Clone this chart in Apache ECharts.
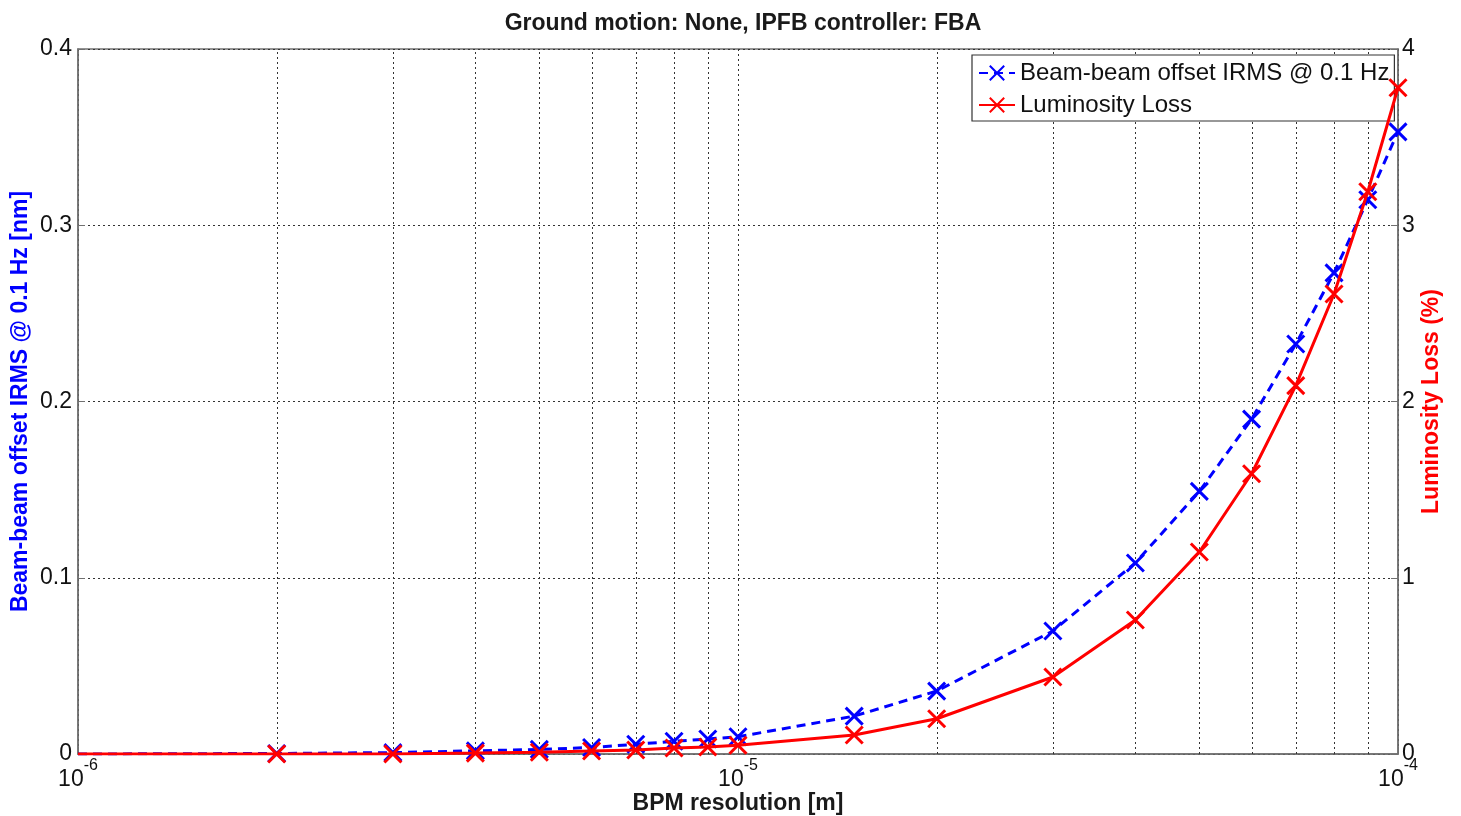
<!DOCTYPE html>
<html>
<head>
<meta charset="utf-8">
<script src="https://cdn.jsdelivr.net/npm/echarts@6/dist/echarts.min.js"></script>
<style>html,body{margin:0;padding:0;background:#fff}#c{width:1461px;height:816px}</style>
</head>
<body>
<div id="c"></div>
<script>
var resolution = [1e-6, 2e-6, 3e-6, 4e-6, 5e-6, 6e-6, 7e-6, 8e-6, 9e-6, 1e-5, 1.5e-5, 2e-5, 3e-5, 4e-5, 5e-5, 6e-5, 7e-5, 8e-5, 9e-5, 1e-4];
var offsetIRMS = [0, 0.0003, 0.0008, 0.0018, 0.0026, 0.0037, 0.0055, 0.0072, 0.0085, 0.0098, 0.0215, 0.0357, 0.0698, 0.1084, 0.149, 0.190, 0.2326, 0.273, 0.3145, 0.353];
var lumiLoss = [0, 0, 0, 0.005, 0.01, 0.017, 0.023, 0.034, 0.04, 0.05, 0.108, 0.2, 0.437, 0.76, 1.146, 1.59, 2.09, 2.61, 3.19, 3.78];
var minorGrid = [2e-6, 3e-6, 4e-6, 5e-6, 6e-6, 7e-6, 8e-6, 9e-6, 2e-5, 3e-5, 4e-5, 5e-5, 6e-5, 7e-5, 8e-5, 9e-5];
var leftTicks = {min: 0, max: 0.4, interval: 0.1};
var rightTicks = {min: 0, max: 4, interval: 1};
var titleText = 'Ground motion: None, IPFB controller: FBA';
var seriesNames = ['Beam-beam offset IRMS @ 0.1 Hz', 'Luminosity Loss'];

var FONT = "'Liberation Sans', Arial, Helvetica, sans-serif";
var CROSS = 'path://M0,0L10,10M10,0L0,10';
var GRIDLINE = {type: [2, 3], color: '#333', width: 1};

function pts(ys) {
  return resolution.map(function (x, i) {
    var d = {value: [x, ys[i]]};
    if (i === 0) d.symbol = 'none';
    return d;
  });
}

var chart = echarts.init(document.getElementById('c'));
chart.setOption({
  animation: false,
  backgroundColor: '#fff',
  textStyle: {fontFamily: FONT},
  title: {
    text: titleText, left: 738, top: 7, textAlign: 'center',
    textStyle: {fontFamily: FONT, fontSize: 23, fontWeight: 'bold', color: '#1a1a1a'}
  },
  grid: {left: 78, right: 63, top: 49, bottom: 62, containLabel: false, outerBoundsMode: 'none',
    show: true, borderColor: '#707070', borderWidth: 1.5, backgroundColor: 'transparent'},
  legend: {
    orient: 'vertical', left: 972, top: 55,
    padding: [6, 5, 4, 6], itemGap: 8, itemWidth: 36, itemHeight: 18,
    borderColor: '#333', borderWidth: 1.2, backgroundColor: '#fff', borderRadius: 0,
    textStyle: {fontFamily: FONT, fontSize: 24, color: '#111'},
    data: seriesNames
  },
  xAxis: {
    type: 'log', logBase: 10, min: 1e-6, max: 1e-4,
    name: 'BPM resolution [m]', nameLocation: 'middle', nameGap: 38, nameMoveOverlap: false,
    nameTextStyle: {fontFamily: FONT, fontSize: 23, fontWeight: 'bold', color: '#1a1a1a'},
    axisLine: {show: true, lineStyle: {color: '#707070', width: 1.5}},
    axisTick: {show: true, inside: true, length: 7, lineStyle: {color: '#707070'}},
    splitLine: {show: true, lineStyle: GRIDLINE},
    axisLabel: {
      margin: 4,
      formatter: function (v) {
        var e = Math.round(Math.log(v) / Math.LN10);
        return '{b|10}{s|' + e + '}';
      },
      rich: {
        b: {fontFamily: FONT, fontSize: 23, color: '#111', lineHeight: 33, verticalAlign: 'bottom'},
        s: {fontFamily: FONT, fontSize: 16, color: '#111', lineHeight: 16, verticalAlign: 'top'}
      }
    }
  },
  yAxis: [{
    type: 'value', min: leftTicks.min, max: leftTicks.max, interval: leftTicks.interval, position: 'left',
    name: 'Beam-beam offset IRMS @ 0.1 Hz [nm]', nameLocation: 'middle', nameGap: 46, nameRotate: 90, nameMoveOverlap: false,
    nameTextStyle: {fontFamily: FONT, fontSize: 23, fontWeight: 'bold', color: '#0000ff'},
    axisLine: {show: true, lineStyle: {color: '#707070', width: 1.5}},
    axisTick: {show: true, inside: true, length: 7, lineStyle: {color: '#707070'}},
    splitLine: {show: true, lineStyle: GRIDLINE},
    axisLabel: {fontFamily: FONT, fontSize: 23, color: '#111', margin: 6}
  }, {
    type: 'value', min: rightTicks.min, max: rightTicks.max, interval: rightTicks.interval, position: 'right',
    name: 'Luminosity Loss (%)', nameLocation: 'middle', nameGap: 22, nameRotate: 90, nameMoveOverlap: false,
    nameTextStyle: {fontFamily: FONT, fontSize: 23, fontWeight: 'bold', color: '#ff0000'},
    axisLine: {show: true, lineStyle: {color: '#707070', width: 1.5}},
    axisTick: {show: true, inside: true, length: 7, lineStyle: {color: '#707070'}},
    splitLine: {show: false},
    axisLabel: {fontFamily: FONT, fontSize: 23, color: '#111', margin: 4}
  }],
  series: [{
    type: 'custom', name: 'minor-grid', silent: true, z: 1, yAxisIndex: 0,
    data: minorGrid.map(function (v) { return [v, leftTicks.min]; }),
    renderItem: function (params, api) {
      var p0 = api.coord([api.value(0), leftTicks.min]);
      var p1 = api.coord([api.value(0), leftTicks.max]);
      return {
        type: 'line',
        shape: {x1: Math.round(p0[0]) + 0.5, y1: p0[1], x2: Math.round(p1[0]) + 0.5, y2: p1[1]},
        style: {stroke: '#333', lineWidth: 1, lineDash: [2, 3]}
      };
    }
  }, {
    name: seriesNames[0], type: 'line', yAxisIndex: 0, z: 3,
    data: pts(offsetIRMS),
    symbol: CROSS, symbolSize: 17,
    lineStyle: {color: '#0000ff', width: 3, type: [9, 6]},
    itemStyle: {color: '#0000ff', borderColor: '#0000ff', borderWidth: 3}
  }, {
    name: seriesNames[1], type: 'line', yAxisIndex: 1, z: 4,
    data: pts(lumiLoss),
    symbol: CROSS, symbolSize: 17,
    lineStyle: {color: '#ff0000', width: 3, type: 'solid'},
    itemStyle: {color: '#ff0000', borderColor: '#ff0000', borderWidth: 3}
  }]
});
</script>
</body>
</html>
